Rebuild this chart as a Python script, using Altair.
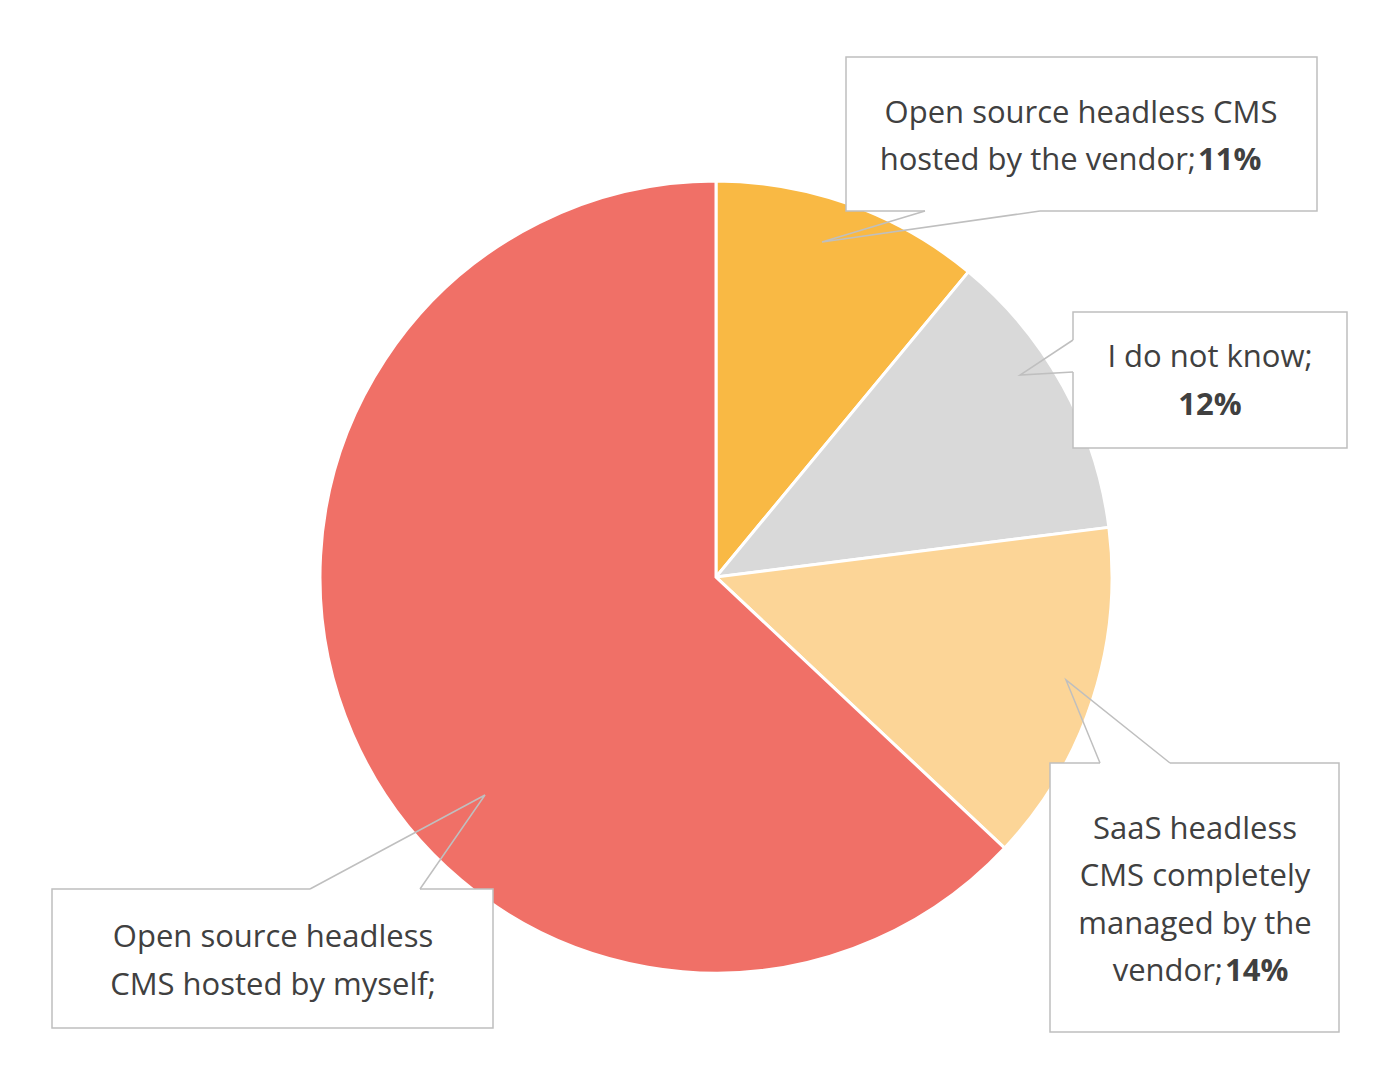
import altair as alt
import pandas as pd

labels = ["Open source headless CMS hosted by the vendor", "I do not know",
          "SaaS headless CMS completely managed by the vendor",
          "Open source headless CMS hosted by myself"]
values = [11, 12, 14, 63]
colors = ["#F9B944", "#D9D9D9", "#FCD597", "#F07067"]

W, H = 1384, 1062
pie = pd.DataFrame({"label": labels, "value": values, "order": range(4)})

xs = alt.Scale(domain=[0, W], range=[0, W])
ys = alt.Scale(domain=[0, H], range=[0, H])

arc = alt.Chart(pie).mark_arc(radius=396, stroke="white", strokeWidth=3).encode(
    theta=alt.Theta("value:Q", stack=True),
    order="order:Q",
    color=alt.Color("label:N", scale=alt.Scale(domain=labels, range=colors), legend=None),
    x=alt.value(708), y=alt.value(569))

# callout boxes (annotation layout)
boxes = pd.DataFrame({"x": [838, 1065, 1042, 44], "x2": [1309, 1339, 1331, 485],
                      "y": [49, 304, 755, 881], "y2": [203, 440, 1024, 1020]})
rect = alt.Chart(boxes).mark_rect(fill="white", stroke="#BFBFBF", strokeWidth=1.5).encode(
    x=alt.X("x:Q", scale=xs, axis=None), x2="x2", y=alt.Y("y:Q", scale=ys, axis=None), y2="y2")

# pointer triangles: base on box edge, tip into pie
ptr = pd.DataFrame({
    "id": [0, 0, 0, 1, 1, 1, 2, 2, 2, 3, 3, 3],
    "k": [0, 1, 2] * 4,
    "px": [917, 814, 1032, 1065, 1012, 1065, 1092, 1058, 1162, 302, 477, 412],
    "py": [203, 234, 203, 332, 367, 364, 755, 672, 755, 881, 787, 881]})
ptr_fill = alt.Chart(ptr).mark_line(color="white", strokeWidth=3).transform_filter("datum.k != 1").encode(
    x=alt.X("px:Q", scale=xs, axis=None), y=alt.Y("py:Q", scale=ys, axis=None), detail="id:N")
ptr_line = alt.Chart(ptr).mark_line(color="#BFBFBF", strokeWidth=1.5).encode(
    x=alt.X("px:Q", scale=xs, axis=None), y=alt.Y("py:Q", scale=ys, axis=None),
    detail="id:N", order="k:Q")

txt = pd.DataFrame({
    "t": ["Open source headless CMS", "hosted by the vendor; ", "I do not know;",
          "SaaS headless", "CMS completely", "managed by the", "vendor; ",
          "Open source headless", "CMS hosted by myself;"],
    "x": [1073, 1188, 1202, 1187, 1187, 1187, 1215, 265, 265],
    "y": [106, 153, 350, 822, 869, 917, 964, 930, 978],
    "a": ["center", "right", "center", "center", "center", "center", "right", "center", "center"]})
bold = pd.DataFrame({"t": ["11%", "12%", "14%"], "x": [1190, 1202, 1217],
                     "y": [153, 398, 964], "a": ["left", "center", "left"]})

def texts(df, weight):
    layers = []
    for a in ["left", "center", "right"]:
        d = df[df.a == a]
        if len(d):
            layers.append(alt.Chart(d).mark_text(font="Open Sans", fontSize=31, color="#404040",
                                                 fontWeight=weight, align=a, baseline="middle").encode(
                x=alt.X("x:Q", scale=xs, axis=None), y=alt.Y("y:Q", scale=ys, axis=None), text="t:N"))
    return layers

chart = alt.layer(arc, rect, ptr_fill, ptr_line, *texts(txt, "normal"), *texts(bold, "bold")).properties(
    width=W, height=H, padding=0, autosize="none").configure_view(stroke=None)

chart.save("out.html", embed_options={"renderer": "svg", "actions": False})
